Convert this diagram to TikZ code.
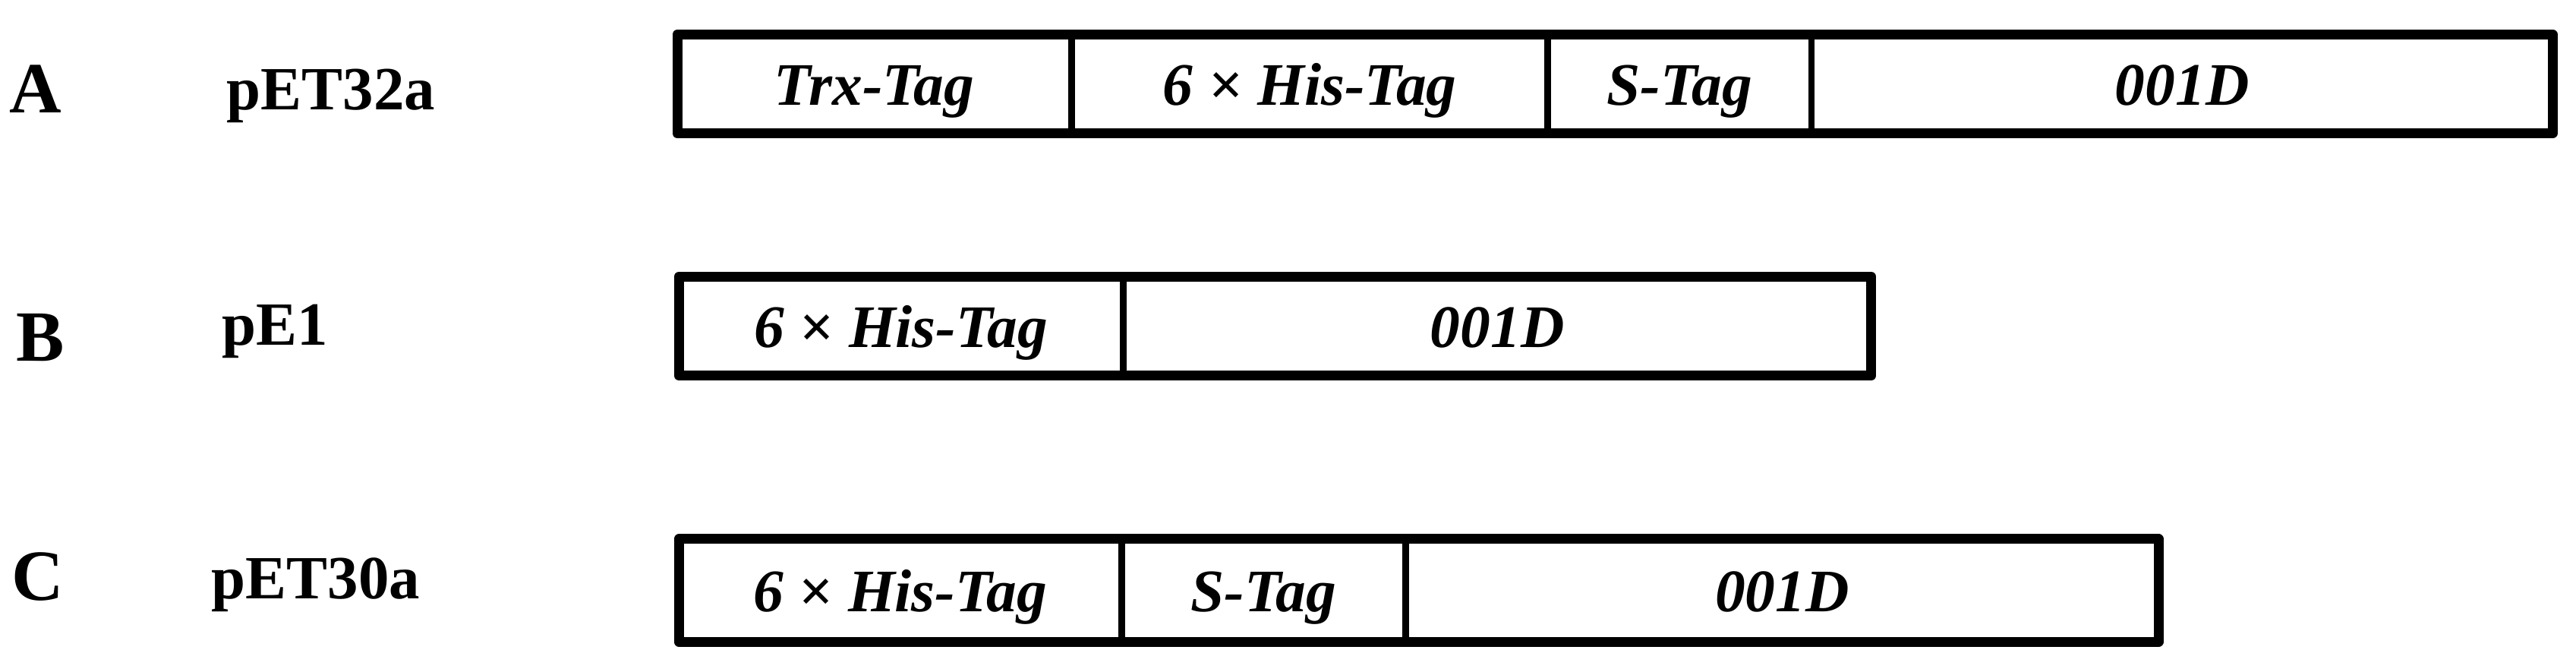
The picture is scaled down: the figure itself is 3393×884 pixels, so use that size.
\documentclass[tikz,border=0pt]{standalone}
\usepackage{fontspec}
\setmainfont{Liberation Serif}
\usetikzlibrary{positioning}
\tikzset{
	seg/.style={draw, line width=2.4pt, outer sep=0pt, inner sep=0pt, anchor=west,
		text height=0.66cm, text depth=0.1cm,
		font=\bfseries\itshape\fontsize{22.6}{24}\selectfont},
	frame/.style={line width=3.7pt, line join=round},
	letter/.style={anchor=base, font=\bfseries\fontsize{27}{30}\selectfont},
	plasmid/.style={anchor=base, font=\bfseries\fontsize{23}{26}\selectfont}
}

\begin{document}
\begin{tikzpicture}[x=0.01cm, y=0.01cm]
\useasboundingbox (0,0) rectangle (3393,-884);

% row A
\node[letter] (la) at (47,-148) {A};
\node[plasmid] (pa) at (436,-144) {pET32a};
\node[seg, minimum width=5.19cm, minimum height=1.30cm] (a1) at (892,-110.5) {Trx-Tag};
\node[seg, minimum width=6.27cm, minimum height=1.30cm, right=0pt of a1] (a2) {6 × His-Tag};
\node[seg, minimum width=3.47cm, minimum height=1.30cm, right=0pt of a2] (a3) {S-Tag};
\node[seg, minimum width=9.76cm, minimum height=1.30cm, right=0pt of a3] (a4) {001D};
\draw[frame] (a1.north west) rectangle (a4.south east);

% row B
\node[letter] (lb) at (53,-475) {B};
\node[plasmid] (pb) at (362,-454) {pE1};
\node[seg, minimum width=5.85cm, minimum height=1.30cm] (b1) at (894,-429.5) {6 × His-Tag};
\node[seg, minimum width=9.85cm, minimum height=1.30cm, right=0pt of b1] (b2) {001D};
\draw[frame] (b1.north west) rectangle (b2.south east);

% row C
\node[letter] (lc) at (50,-790) {C};
\node[plasmid] (pc) at (416,-788) {pET30a};
\node[seg, minimum width=5.83cm, minimum height=1.35cm] (c1) at (894,-777.5) {6 × His-Tag};
\node[seg, minimum width=3.74cm, minimum height=1.35cm, right=0pt of c1] (c2) {S-Tag};
\node[seg, minimum width=9.91cm, minimum height=1.35cm, right=0pt of c2] (c3) {001D};
\draw[frame] (c1.north west) rectangle (c3.south east);
\end{tikzpicture}
\end{document}
